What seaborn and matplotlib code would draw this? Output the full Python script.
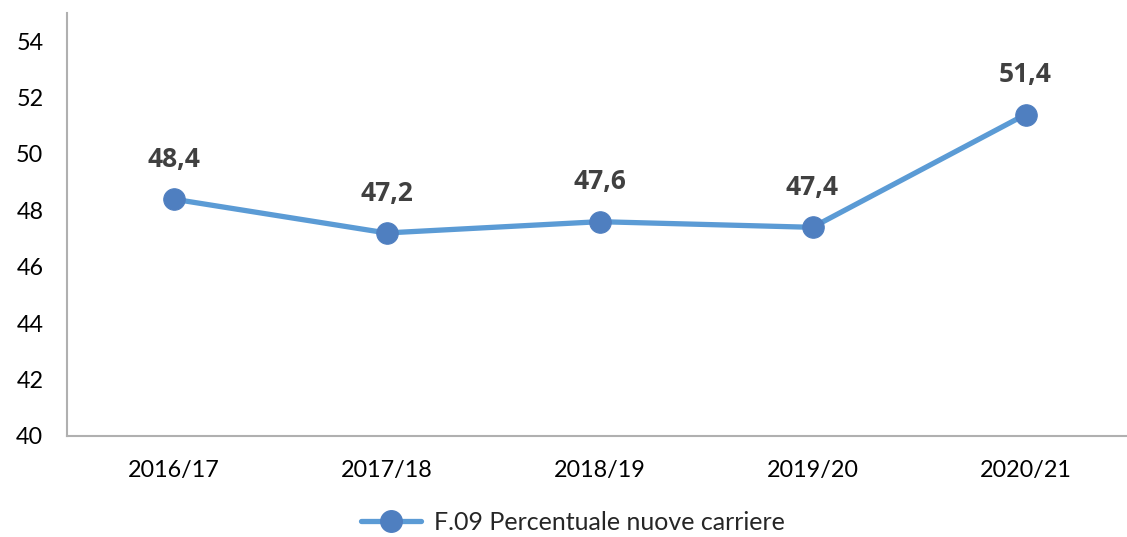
import matplotlib
matplotlib.use("Agg")
import matplotlib.pyplot as plt
import seaborn as sns
import pandas as pd
from matplotlib.lines import Line2D

categories = ["2016/17", "2017/18", "2018/19", "2019/20", "2020/21"]
values = [48.4, 47.2, 47.6, 47.4, 51.4]
series_name = "F.09 Percentuale nuove carriere"
yticks = [40, 42, 44, 46, 48, 50, 52, 54]

sns.set_style("white")
plt.rcParams['font.family'] = ['Lato', 'DejaVu Sans']

df = pd.DataFrame({"x": list(range(len(categories))), "y": values, "s": series_name})

fig = plt.figure(figsize=(11.27, 5.37), dpi=100)
ax = fig.add_axes([67/1127, 101/537, 1065/1127, 423/537])

line_color = "#5B9BD5"
marker_color = "#4F7FC0"
sns.lineplot(data=df, x="x", y="y", hue="s", palette=[line_color], ax=ax,
             linewidth=3.8, marker="o", markersize=15.5, markerfacecolor=marker_color,
             markeredgecolor=marker_color, legend=False)

for i, v in enumerate(values):
    ax.annotate(f"{v:.1f}".replace(".", ","), (i, v), xytext=(0, 19), textcoords="offset points",
                ha="center", va="bottom", fontsize=19, fontweight="bold", color="#404040",
                family=["Open Sans", "DejaVu Sans"])

ax.set_xlim(-0.5, len(categories) - 0.5)
ax.set_ylim(40, 55)
ax.set_yticks(yticks)
ax.set_yticklabels([str(t) for t in yticks])
ax.set_xticks(range(len(categories)))
ax.set_xticklabels(categories)
ax.set_xticks([i - 0.5 for i in range(len(categories) + 1)], minor=True)
ax.tick_params(axis="x", which="major", length=0, pad=17, labelsize=16.8, colors="black")
ax.tick_params(axis="x", which="minor", length=6, width=1.2, color="#B0B0B0", direction="out")
ax.tick_params(axis="y", which="major", length=6, width=1.2, color="#B0B0B0", pad=11,
               labelsize=16.8, labelcolor="black", direction="out")
ax.set_xlabel("")
ax.set_ylabel("")
for s in ["top", "right"]:
    ax.spines[s].set_visible(False)
for s in ["left", "bottom"]:
    ax.spines[s].set_color("#B0B0B0")
    ax.spines[s].set_linewidth(1.5)

handle = Line2D([], [], color=line_color, linewidth=3.8, marker="o", markersize=15.5,
                markerfacecolor=marker_color, markeredgecolor=marker_color)
fig.legend([handle], [series_name], loc="center", bbox_to_anchor=(573/1127, 1 - 522/537),
           frameon=False, fontsize=18, handlelength=2.4, handletextpad=0.5)

fig.savefig("out.png", dpi=100)
